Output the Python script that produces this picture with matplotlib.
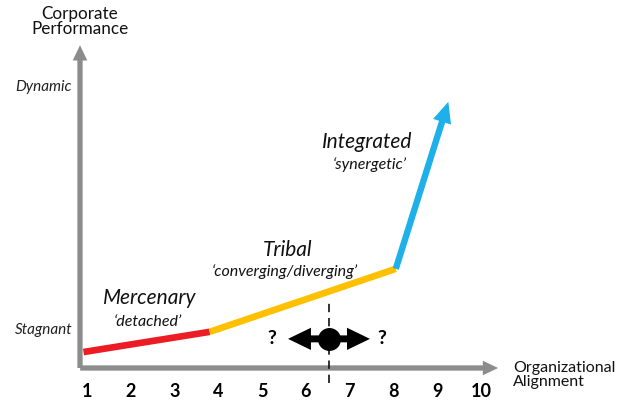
import matplotlib
matplotlib.use("Agg")
import matplotlib.pyplot as plt
from matplotlib.patches import FancyArrowPatch, ArrowStyle

plt.rcParams['font.family'] = ['Lato', 'DejaVu Sans']

# Alignment / performance path through the three stages
stage_x = [0.92, 3.8, 8.05, 9.25]
stage_y = [0.57, 1.29, 3.54, 9.5]
segment_colors = ['#ec1c24', '#ffc000', '#1eb0e8']

stage_names = ['Mercenary', 'Tribal', 'Integrated']
stage_tags = ['\u2018detached\u2019', '\u2018converging/diverging\u2019', '\u2018synergetic\u2019']
name_pos = [(2.44, 2.5), (5.59, 4.21), (7.39, 8.07)]
tag_pos = [(2.39, 1.64), (5.52, 3.43), (7.46, 7.25)]

x_ticks = [1, 2, 3, 4, 5, 6, 7, 8, 9, 10]
y_level_labels = ['Stagnant', 'Dynamic']
y_level_values = [1.36, 10.04]

current_x = 6.52
current_y = 1.04
swing_range = (5.59, 7.46)

fig = plt.figure(figsize=(6.26, 4.0), dpi=100)
ax = fig.add_axes([80 / 626, 32 / 400, 420 / 626, 325 / 400])
ax.set_xlim(0.84, 10.43)
ax.set_ylim(0, 11.6)
for s in ax.spines.values():
    s.set_visible(False)
ax.set_yticks([])
ax.set_xticks(x_ticks)
ax.set_xticklabels([str(t) for t in x_ticks], fontsize=13, fontweight='bold')
ax.tick_params(axis='x', length=0, pad=11)

gray = '#8c8c8c'
axis_style = ArrowStyle.Simple(head_length=1.1, head_width=1.05, tail_width=0.38)
ax.add_patch(FancyArrowPatch((0.84, -0.1), (0.84, 11.62), arrowstyle=axis_style,
                             mutation_scale=10, color=gray, lw=0, clip_on=False, zorder=2))
ax.add_patch(FancyArrowPatch((0.78, 0.0), (10.45, 0.0), arrowstyle=axis_style,
                             mutation_scale=10, color=gray, lw=0, clip_on=False, zorder=2))

# Red and orange segments as plain lines, the blue one ends in an arrow
for i in range(2):
    ax.plot(stage_x[i:i + 2], stage_y[i:i + 2], color=segment_colors[i], lw=4.8,
            solid_capstyle='butt', clip_on=False, zorder=3)
blue_style = ArrowStyle.Simple(head_length=1.5, head_width=1.35, tail_width=0.46)
ax.add_patch(FancyArrowPatch((stage_x[2], stage_y[2]), (stage_x[3], stage_y[3]),
                             arrowstyle=blue_style, mutation_scale=10,
                             color=segment_colors[2], lw=0, clip_on=False, zorder=3,
                             shrinkA=0, shrinkB=0))

for name, tag, (nx, ny), (tx, ty) in zip(stage_names, stage_tags, name_pos, tag_pos):
    ax.text(nx, ny, name, fontsize=15, style='italic', ha='center', va='center',
            color='#111111')
    ax.text(tx, ty, tag, fontsize=11.5, style='italic', ha='center', va='center',
            color='#111111')

for lab, yv in zip(y_level_labels, y_level_values):
    ax.text(0.66, yv, lab, fontsize=11, style='italic', ha='right', va='center',
            color='#222222')

ax.text(0.84, 12.36, 'Corporate\nPerformance', fontsize=12.3, ha='center', va='center',
        linespacing=0.95, color='#111111')
ax.text(10.73, -0.25, 'Organizational\nAlignment', fontsize=11.5, ha='left', va='center',
        linespacing=0.95, color='#111111')

# Current position marker with a two-way uncertainty arrow
ax.plot([current_x, current_x], [-0.54, 2.32], color='#111111', lw=1.2,
        ls=(0, (5, 3.5)), clip_on=False, zorder=4)
swing_style = ArrowStyle.Simple(head_length=1.65, head_width=1.6, tail_width=0.5)
for end in swing_range:
    ax.add_patch(FancyArrowPatch((current_x, current_y), (end, current_y),
                                 arrowstyle=swing_style, mutation_scale=10,
                                 color='black', lw=0, zorder=5, shrinkA=0, shrinkB=0))
ax.plot([current_x], [current_y], marker='o', markersize=15.5, color='black', zorder=6)
ax.text(5.22, current_y, '?', fontsize=14, fontweight='bold', ha='center', va='center')
ax.text(7.74, current_y, '?', fontsize=14, fontweight='bold', ha='center', va='center')

fig.savefig('out.png', dpi=100)
